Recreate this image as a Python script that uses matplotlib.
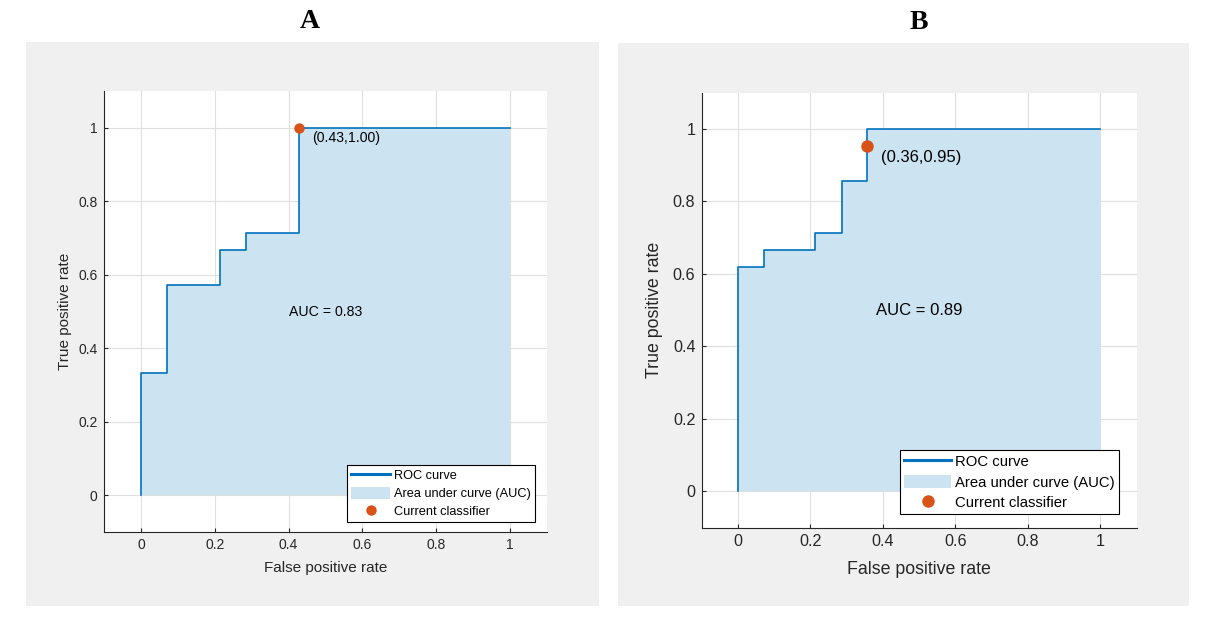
import matplotlib
matplotlib.use('Agg')
import matplotlib.pyplot as plt
from matplotlib.patches import Rectangle, Patch
from matplotlib.lines import Line2D

plt.rcParams['font.family'] = ['Liberation Sans', 'DejaVu Sans']

# ---- data ----
fpr_a = [0.0, 0.0, 0.071, 0.071, 0.214, 0.214, 0.286, 0.286, 0.429, 0.429, 1.0]
tpr_a = [0.0, 0.333, 0.333, 0.571, 0.571, 0.667, 0.667, 0.714, 0.714, 1.0, 1.0]
op_fpr_a, op_tpr_a = 0.429, 1.0
auc_a = 0.83

fpr_b = [0.0, 0.0, 0.071, 0.071, 0.214, 0.214, 0.286, 0.286, 0.357, 0.357, 1.0]
tpr_b = [0.0, 0.619, 0.619, 0.667, 0.667, 0.714, 0.714, 0.857, 0.857, 1.0, 1.0]
op_fpr_b, op_tpr_b = 0.357, 0.952
auc_b = 0.89

ticks = [0, 0.2, 0.4, 0.6, 0.8, 1]
tick_labels = ['0', '0.2', '0.4', '0.6', '0.8', '1']
panel_titles = ['A', 'B']
legend_labels = ['ROC curve', 'Area under curve (AUC)', 'Current classifier']

W, H = 1210, 626
fig = plt.figure(figsize=(W / 100, H / 100), dpi=100)
fig.patch.set_facecolor('white')

LINE = '#0072BD'
FILL = '#CCE3F2'
MARK = '#D95319'
DARK = '#262626'


def fx(x):
    return x / W


def fy(y):
    return 1 - y / H


panels = [
    dict(title=panel_titles[0], fpr=fpr_a, tpr=tpr_a, op=(op_fpr_a, op_tpr_a), auc=auc_a,
         gray=(26, 42, 599, 605.7), axes=(104, 91, 547, 532), title_xy=(310, 21),
         tick_fs=10, label_fs=11, txt_fs=10.2, leg_fs=9.2, ms=7.5,
         xlab_y=-0.0816, ylab_x=-0.088, leg_xy=(0.5485, 0.1508), off=(12.5, -10.7)),
    dict(title=panel_titles[1], fpr=fpr_b, tpr=tpr_b, op=(op_fpr_b, op_tpr_b), auc=auc_b,
         gray=(618, 43, 1188.7, 605.6), axes=(701.7, 92.7, 1136.6, 527.6), title_xy=(919, 22.5),
         tick_fs=11.6, label_fs=12.8, txt_fs=12, leg_fs=10.7, ms=9,
         xlab_y=-0.0965, ylab_x=-0.1075, leg_xy=(0.456, 0.1784), off=(14, -11.6)),
]

for p in panels:
    gx0, gy0, gx1, gy1 = p['gray']
    fig.patches.append(Rectangle((fx(gx0), fy(gy1)), fx(gx1 - gx0), (gy1 - gy0) / H,
                                 transform=fig.transFigure, facecolor='#F0F0F0',
                                 edgecolor='none', zorder=-5))
    fig.text(fx(p['title_xy'][0]), fy(p['title_xy'][1]), p['title'],
             family='Liberation Serif', fontweight='bold', fontsize=20,
             ha='center', va='center')

    ax0, ay0, ax1, ay1 = p['axes']
    ax = fig.add_axes([fx(ax0), fy(ay1), fx(ax1 - ax0), (ay1 - ay0) / H])
    ax.set_zorder(1)
    ax.set_facecolor('white')
    ax.set_xlim(-0.1, 1.1)
    ax.set_ylim(-0.1, 1.1)
    ax.set_axisbelow(True)
    ax.grid(True, color='#DFDFDF', linewidth=0.8)
    for s in ['top', 'right']:
        ax.spines[s].set_visible(False)
    for s in ['left', 'bottom']:
        ax.spines[s].set_color(DARK)
        ax.spines[s].set_linewidth(0.8)
    ax.set_xticks(ticks)
    ax.set_xticklabels(tick_labels)
    ax.set_yticks(ticks)
    ax.set_yticklabels(tick_labels)
    ax.tick_params(direction='in', length=3, width=0.8, color=DARK, labelcolor=DARK,
                   labelsize=p['tick_fs'], pad=4.5)

    ax.fill_between(p['fpr'], p['tpr'], 0, color=FILL, linewidth=0, zorder=2)
    ax.plot(p['fpr'], p['tpr'], color=LINE, linewidth=1.2, zorder=3)
    ox, oy = p['op']
    ax.plot([ox], [oy], 'o', color=MARK, markersize=p['ms'], markeredgewidth=0, zorder=4)
    ax.annotate('(%.2f,%.2f)' % (ox, oy), xy=(ox, oy), xytext=p['off'],
                textcoords='offset pixels', ha='left', va='center',
                fontsize=p['txt_fs'], color='black', zorder=5)
    ax.text(0.5, 0.5, 'AUC = %.2f' % p['auc'], ha='center', va='center',
            fontsize=p['txt_fs'], color='black', zorder=5)

    ax.set_xlabel('False positive rate', fontsize=p['label_fs'], color=DARK, va='center')
    ax.set_ylabel('True positive rate', fontsize=p['label_fs'], color=DARK, va='center')
    ax.xaxis.set_label_coords(0.5, p['xlab_y'])
    ax.yaxis.set_label_coords(p['ylab_x'], 0.5)

    handles = [Line2D([], [], color=LINE, linewidth=2.2),
               Patch(facecolor=FILL, edgecolor='none'),
               Line2D([], [], marker='o', linestyle='none', color=MARK,
                      markersize=p['ms'], markeredgewidth=0)]
    leg = ax.legend(handles, legend_labels, loc='upper left', bbox_to_anchor=p['leg_xy'],
                    borderaxespad=0, fontsize=p['leg_fs'], fancybox=False, framealpha=1,
                    edgecolor='black', handlelength=3.1, handletextpad=0.3,
                    labelspacing=0.38, borderpad=0.3, handleheight=1.0)
    leg.get_frame().set_linewidth(0.8)
    leg.set_zorder(10)

fig.savefig('out.png', dpi=100, facecolor='white')
